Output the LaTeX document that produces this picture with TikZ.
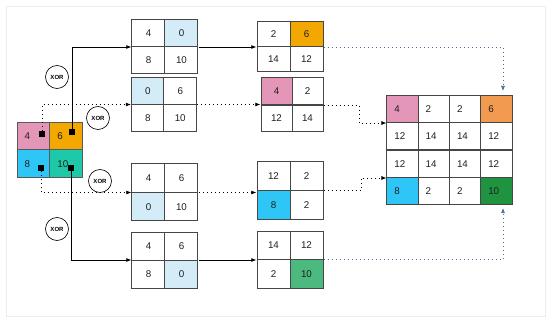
\documentclass[tikz,border=0pt]{standalone}
\usepackage{fontspec}
\setmainfont{Liberation Sans}
\usetikzlibrary{matrix,arrows.meta}
\definecolor{pinkc}{RGB}{228,150,185}
\definecolor{orangec}{RGB}{242,168,0}
\definecolor{bluec}{RGB}{46,198,246}
\definecolor{tealc}{RGB}{29,201,168}
\definecolor{lbc}{RGB}{211,236,247}
\definecolor{orange2c}{RGB}{242,154,80}
\definecolor{greenc}{RGB}{76,185,126}
\definecolor{dgreenc}{RGB}{31,147,64}
\definecolor{linkblue}{RGB}{74,106,160}
\definecolor{cellborder}{RGB}{70,70,70}
\definecolor{textcol}{RGB}{30,30,30}
\begin{document}
\begin{tikzpicture}[x=1pt,y=-1pt,
  cellsty/.style={draw=cellborder, line width=1pt, inner sep=0pt, text=textcol,
    font=\fontsize{9.8}{10}\selectfont, anchor=center},
  qm/.style 2 args={matrix of nodes, inner sep=0pt, column sep=-1pt, row sep=-1pt,
    nodes={cellsty, minimum width=#1, minimum height=#2}},
  lm/.style 2 args={matrix of nodes, inner sep=0pt, column sep=-1pt, row sep=-1pt,
    nodes={cellsty, minimum height=#2, text width=#1-15pt, inner xsep=7.5pt, align=left}},
  sq/.style={fill=black, minimum size=6pt, inner sep=0pt},
  xorc/.style={circle, draw=black, line width=0.6pt, minimum size=23pt, inner sep=0pt,
    font=\fontsize{6}{7}\selectfont\bfseries},
  conn/.style={draw=black, line width=0.7pt, -{Latex[length=5pt,width=4pt]}},
  dconn/.style={conn, dash pattern=on 1.1pt off 2.9pt},
  bconn/.style={dconn, draw=linkblue, -{Latex[length=5pt,width=4pt,fill=linkblue]}},
]
\useasboundingbox (0,0) rectangle (550,321);
\draw[draw=black!7, line width=0.6pt] (6,6) rectangle (545,316);

% source matrix
\matrix (src) [lm={33pt}{28pt}, nodes={draw=black!65, line width=0.7pt}] at (50,150) {
  |[fill=pinkc]| 4 & |[fill=orangec]| 6 \\
  |[fill=bluec]| 8 & |[fill=tealc]| 10 \\
};
\node[sq] (q4) at (42,134) {};
\node[sq] (q6) at (72,132) {};
\node[sq] (q8) at (41,168) {};
\node[sq] (q10) at (71,168) {};

% first column
\matrix (b1) [qm={33pt}{27pt}] at (165,47) {
  4 & |[fill=lbc]| 0 \\ 8 & 10 \\ };
\matrix (b2) [qm={32.5pt}{27.5pt}] at (164,104.5) {
  |[fill=lbc]| 0 & 6 \\ 8 & 10 \\ };
\matrix (b3) [qm={33pt}{28.5pt}] at (165,192.5) {
  4 & 6 \\ |[fill=lbc]| 0 & 10 \\ };
\matrix (b4) [qm={33pt}{28pt}] at (165,260) {
  4 & 6 \\ 8 & |[fill=lbc]| 0 \\ };

% second column
\matrix (b5) [qm={33pt}{25pt}] at (290,47) {
  2 & |[fill=orangec]| 6 \\ 14 & 12 \\ };
\matrix (b6) [qm={31pt}{27pt}] at (292,105) {
  |[fill=pinkc]| 4 & 2 \\ 12 & 14 \\ };
\matrix (b7) [qm={33pt}{28.5pt}] at (290,190.5) {
  12 & 2 \\ |[fill=bluec]| 8 & 2 \\ };
\matrix (b8) [qm={33pt}{28.5pt}] at (290,259.5) {
  14 & 12 \\ 2 & |[fill=greenc]| 10 \\ };

% result matrix
\matrix (big) [lm={31.3pt}{27.5pt}] at (449.5,150) {
  |[fill=pinkc]| 4 & 2 & 2 & |[fill=orange2c]| 6 \\
  12 & 14 & 14 & 12 \\
  12 & 14 & 14 & 12 \\
  |[fill=bluec]| 8 & 2 & 2 & |[fill=dgreenc]| 10 \\
};

% XOR labels
\node[xorc] (x1) at (57,77) {XOR};
\node[xorc] (x2) at (98,118) {XOR};
\node[xorc] (x3) at (100,181) {XOR};
\node[xorc] (x4) at (57,229) {XOR};

% helper coordinates
\coordinate (j1) at (359,0);
\coordinate (j2) at (361,0);
\coordinate (tA) at (503,91);
\coordinate (tB) at (503,208);

% connectors from source
\draw[conn] (q6.north) |- (b1.west);
\draw[dconn] (q4.north) |- (b2.west);
\draw[dconn] (q8.south) |- (b3.west);
\draw[conn] (q10.south) |- (b4.west);

% first to second column
\draw[conn] (b1.east) -- (b1.east -| b5.west);
\draw[dconn] (b2.east) -- (b2.east -| b6.west);
\draw[dconn] (b3.east) -- (b3.east -| b7.west);
\draw[conn] (b4.east) -- (b4.east -| b8.west);

% second column to result
\draw[bconn] (b5.east) -| (tA);
\draw[dconn] (b6.east) -| (j1 |- big-1-1.south west) -- (big-1-1.south west);
\draw[dconn] (b7.east) -| (j2 |- big-3-1.south west) -- (big-3-1.south west);
\draw[bconn] (b8.east) -| (tB);
\end{tikzpicture}
\end{document}
